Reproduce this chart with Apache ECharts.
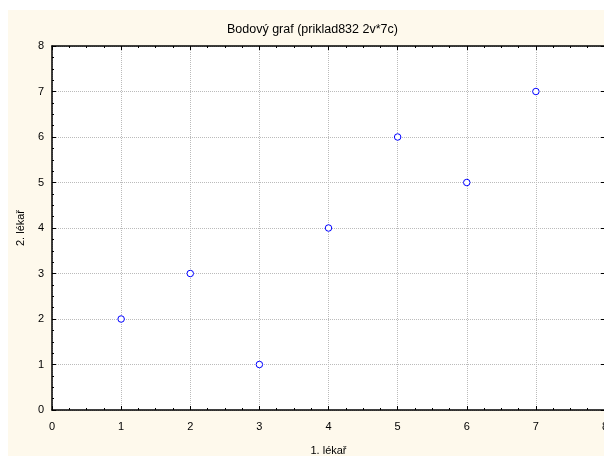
<!DOCTYPE html>
<html><head><meta charset="utf-8">
<script src="https://cdn.jsdelivr.net/npm/echarts@6/dist/echarts.min.js"></script>
<style>html,body{margin:0;padding:0;background:#FEF9EC;overflow:hidden}#c{width:604px;height:456px}</style>
</head><body><div id="c"></div>
<script>
const titleText = 'Bodový graf (priklad832 2v*7c)';
const xName = '1. lékař';
const yName = '2. lékař';
const xValues = [1, 2, 3, 4, 5, 6, 7];
const yValues = [2, 3, 1, 4, 6, 5, 7];
const axisMin = 0, axisMax = 8, axisStep = 1;

const points = xValues.map((x, i) => [x, yValues[i]]);
const font = 'Liberation Sans, Arial, sans-serif';
const tickCommon = {
  min: axisMin, max: axisMax, interval: axisStep,
  axisLine: { show: true, onZero: false, lineStyle: { color: '#000', width: 1.5 } },
  axisTick: { show: true, inside: true, length: 4, lineStyle: { color: '#000' } },
  minorTick: { show: true, splitNumber: 4, length: 2, lineStyle: { color: '#000' } },
};
const chart = echarts.init(document.getElementById('c'), null, { renderer: 'canvas' });
chart.setOption({
  animation: false,
  backgroundColor: '#fff',
  graphic: [
    { type: 'rect', z: -10, silent: true, shape: { x: 8, y: 10, width: 600, height: 450 }, style: { fill: '#FEF9EC' } }
  ],
  title: { text: titleText, left: 222, top: 18,
    textStyle: { fontFamily: font, fontSize: 12.5, fontWeight: 'normal', color: '#000' } },
  grid: { left: 52, top: 46, width: 553, height: 364, backgroundColor: '#fff', show: true, borderWidth: 0,
    outerBoundsMode: 'none', containLabel: false },
  xAxis: [
    Object.assign({}, tickCommon, { type: 'value', position: 'bottom',
      name: xName, nameLocation: 'middle', nameGap: 35,
      nameTextStyle: { fontFamily: font, fontSize: 11, color: '#000' },
      axisLabel: { fontFamily: font, fontSize: 11, color: '#000', margin: 11 },
      splitLine: { show: true, lineStyle: { type: 'dotted', color: '#bbb' } } }),
    Object.assign({}, tickCommon, { type: 'value', position: 'top',
      axisLabel: { show: false }, splitLine: { show: false } })
  ],
  yAxis: [
    Object.assign({}, tickCommon, { type: 'value', position: 'left',
      name: yName, nameLocation: 'middle', nameGap: 26, nameRotate: 90,
      nameTextStyle: { fontFamily: font, fontSize: 11, color: '#000' },
      axisLabel: { fontFamily: font, fontSize: 11, color: '#000', margin: 8 },
      splitLine: { show: true, lineStyle: { type: 'dotted', color: '#bbb' } } }),
    Object.assign({}, tickCommon, { type: 'value', position: 'right',
      minorTick: { show: false },
      axisLabel: { show: false }, splitLine: { show: false } })
  ],
  series: [{
    type: 'scatter', xAxisIndex: 0, yAxisIndex: 0, data: points,
    symbol: 'circle', symbolSize: 6.5,
    itemStyle: { color: '#fff', borderColor: '#0000FF', borderWidth: 1, opacity: 1 }
  }]
});
</script></body></html>
